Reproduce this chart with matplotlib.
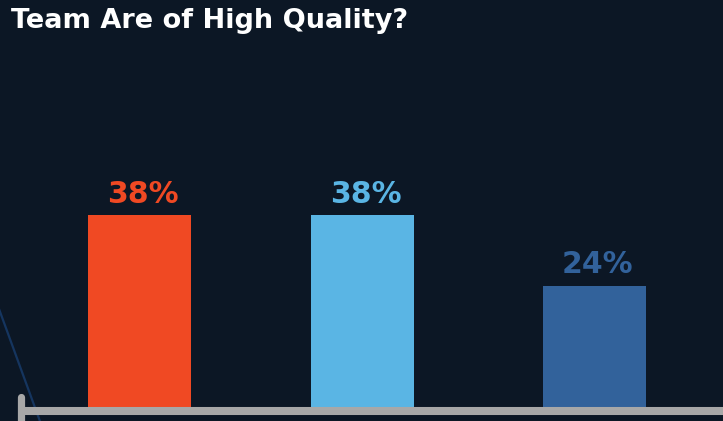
import matplotlib
matplotlib.use("Agg")
import matplotlib.pyplot as plt
from matplotlib.lines import Line2D

# Data
categories = ["Option A", "Option B", "Option C"]
values = [38, 38, 24]
labels = ["38%", "38%", "24%"]
title_text = "Team Are of High Quality?"

colors = ["#f04923", "#5ab5e4", "#32629b"]
bg = "#0c1725"
FONT = ["DejaVu Sans"]

W, H = 723, 421
fig = plt.figure(figsize=(W / 100, H / 100), dpi=100)
fig.patch.set_facecolor(bg)

base_px = 14  # distance of bar base from figure bottom (px)
k = 5.05      # px per percent
ax = fig.add_axes([0, base_px / H, 1, (H - base_px) / H])
ax.set_facecolor(bg)
ax.set_xlim(0, W)
ax.set_ylim(0, (H - base_px) / k)
ax.axis("off")

xpos = [139.5, 362.5, 594.5]
ax.bar(xpos, values, width=103, color=colors, zorder=2)
for x, v, lab, c in zip(xpos, values, labels, colors):
    ax.text(x + 3, v + 12.5 / k, lab, ha="center", va="baseline", color=c,
            fontsize=21.5, fontweight="bold", family=FONT)

# Title (cut off at left)
fig.text(408 / W, 1 - 28.3 / H, title_text, ha="right", va="baseline",
         color="white", fontsize=19.5, fontweight="bold", family=FONT)

# Decorative diagonal line
fig.add_artist(Line2D([-5 / W, 45 / W], [1 - 298 / H, 1 - 435 / H],
                      transform=fig.transFigure, color="#15355f", lw=1.6, zorder=0))

# Baseline and tick
fig.add_artist(Line2D([20 / W, 1.02], [1 - 411 / H, 1 - 411 / H],
                      transform=fig.transFigure, color="#a8a8a8", lw=5.8,
                      solid_capstyle="butt", zorder=3))
fig.add_artist(Line2D([20.5 / W, 20.5 / W], [1 - 397 / H, -0.02],
                      transform=fig.transFigure, color="#a8a8a8", lw=5.2,
                      solid_capstyle="round", zorder=3))

fig.savefig("out.png", dpi=100, facecolor=bg)
